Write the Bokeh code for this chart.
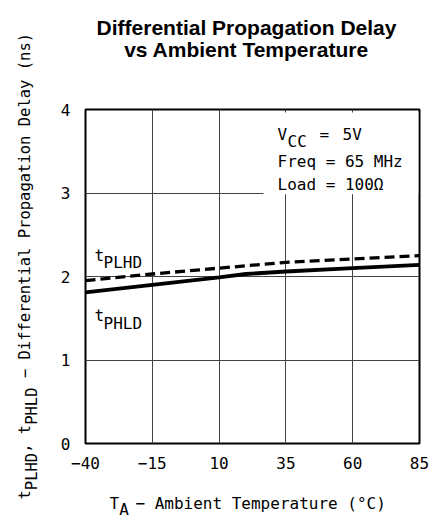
import math
from bokeh.plotting import figure
from bokeh.models import Label, Range1d, FixedTicker, BoxAnnotation
from bokeh.layouts import row, column
from bokeh.embed import file_html
from bokeh.resources import INLINE

# ---- data ----
x_ticks = [-40, -15, 10, 35, 60, 85]
y_ticks = [0, 1, 2, 3, 4]
x_tick_labels = ["−40", "−15", "10", "35", "60", "85"]

temp_plhd = [-40, -15, 10, 35, 60, 85]
t_plhd = [1.95, 2.03, 2.10, 2.17, 2.21, 2.25]

temp_phld = [-40, -15, 10, 20, 35, 60, 85]
t_phld = [1.81, 1.90, 1.99, 2.03, 2.06, 2.10, 2.14]

title_lines = ["Differential Propagation Delay", "vs Ambient Temperature"]
cond_lines = ["Freq = 65 MHz", "Load = 100Ω"]

MONO = "DejaVu Sans Mono"
TOTAL_W, TOTAL_H = 430, 516
LEFT_W = 40
TOP_H = 95
BOT_H = 43
MAIN_W = TOTAL_W - LEFT_W
MAIN_H = TOTAL_H - TOP_H - BOT_H
# frame of the chart in page pixels
FX0, FX1, FY0, FY1 = 85, 419, 109, 443


def text_fig(w, h, y_top, y_bot, x0, x1, bl, br):
    # text strip whose coordinates are page pixels (y grows downward)
    f = figure(width=w, height=h, x_range=Range1d(x0, x1), y_range=Range1d(y_bot, y_top),
               output_backend="svg", toolbar_location=None,
               x_axis_location=None, y_axis_location=None,
               min_border_left=bl, min_border_right=br, min_border_top=0, min_border_bottom=0)
    f.outline_line_color = None
    f.grid.visible = False
    f.background_fill_color = "white"
    f.border_fill_color = "white"
    return f


def put(f, text, x, y, size="16px", font=MONO, align="left", angle=0.0, style="normal"):
    f.add_layout(Label(x=x, y=y, text=text, text_font=font, text_font_size=size,
                       text_align=align, text_baseline="alphabetic", angle=angle,
                       text_font_style=style, text_color="black"))


# ---- main figure ----
p = figure(width=MAIN_W, height=MAIN_H, x_range=Range1d(-40, 85), y_range=Range1d(0, 4),
           output_backend="svg", toolbar_location=None,
           min_border_left=FX0 - LEFT_W, min_border_right=TOTAL_W - FX1,
           min_border_top=FY0 - TOP_H, min_border_bottom=MAIN_H - (FY1 - TOP_H))
p.background_fill_color = "white"
p.border_fill_color = "white"
p.outline_line_color = "black"
p.outline_line_width = 2

p.xaxis.ticker = FixedTicker(ticks=x_ticks)
p.yaxis.ticker = FixedTicker(ticks=y_ticks)
p.xaxis.major_label_overrides = {t: l for t, l in zip(x_ticks, x_tick_labels)}
for ax in (p.xaxis, p.yaxis):
    ax.axis_line_color = None
    ax.major_tick_line_color = None
    ax.minor_tick_line_color = None
    ax.major_label_text_font = MONO
    ax.major_label_text_font_size = "16px"
    ax.major_label_text_color = "black"
p.xaxis.major_label_standoff = 7
p.yaxis.major_label_standoff = 9

p.xgrid.ticker = FixedTicker(ticks=x_ticks)
p.ygrid.ticker = FixedTicker(ticks=y_ticks)
p.grid.grid_line_color = "#444444"
p.grid.grid_line_width = 1


def dx(px):
    return -40 + (px - FX0) * 125 / (FX1 - FX0)


def dy(py):
    return (FY1 - py) * 4 / (FY1 - FY0)


# white box behind the test conditions (hides the grid there)
p.add_layout(BoxAnnotation(left=dx(263), right=dx(417.8), bottom=dy(193.8), top=dy(112),
                           fill_color="white", fill_alpha=1.0, line_color=None, level="underlay"))

p.line(temp_phld, t_phld, line_color="black", line_width=3.8)
p.line(temp_plhd, t_plhd, line_color="black", line_width=3.3, line_dash="10 5")


def lab(text, px, py, size="16px"):
    put(p, text, dx(px), dy(py), size=size)


lab("V", 277, 134)
lab("CC", 287, 141)
lab("=", 319, 134)
lab("5V", 342, 134)
lab(cond_lines[0], 277, 161)
lab(cond_lines[1], 277, 184)

lab("t", 94, 255)
lab("PLHD", 103, 262)
lab("t", 94, 315)
lab("PHLD", 103, 323)

# ---- title strip (page y 0..95) ----
top = text_fig(MAIN_W, TOP_H, 0, TOP_H, FX0, FX1, FX0 - LEFT_W, TOTAL_W - FX1)
put(top, title_lines[0], 246, 27, size="21px", font="Liberation Sans",
    align="center", style="bold")
put(top, title_lines[1], 246, 49, size="21px", font="Liberation Sans",
    align="center", style="bold")

# ---- x label strip (page y 473..516) ----
bot = text_fig(MAIN_W, BOT_H, TOTAL_H - BOT_H, TOTAL_H, FX0, FX1, FX0 - LEFT_W, TOTAL_W - FX1)
cw16 = 0.602 * 16
put(bot, "T", 109, 503)
put(bot, "A", 109 + cw16, 509)
put(bot, "− Ambient Temperature (°C)", 109 + 3 * cw16 - 3, 503)

# ---- y label strip (page x 0..40) ----
left = text_fig(LEFT_W, TOTAL_H, 0, TOTAL_H, 0, LEFT_W, 0, 0)
cw = 0.602 * 15.5
pieces = [("t", False, 0), ("PLHD", True, 0), (", t", False, 0), ("PHLD", True, 0),
          ("− Differential Propagation Delay (ns)", False, 1)]
ypos = 499
for txt, sub, lead in pieces:
    ypos -= cw * lead
    put(left, txt, 31 if sub else 24, ypos, size="15.5px", angle=math.pi / 2)
    ypos -= cw * len(txt)

layout = row(left, column(top, p, bot, spacing=0), spacing=0)
open("out.html", "w").write(file_html(layout, INLINE))
